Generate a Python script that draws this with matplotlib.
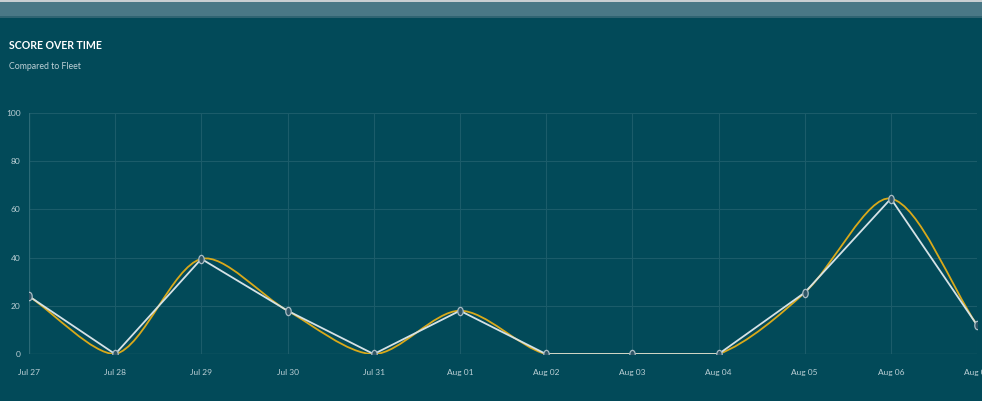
"""Score over time vs fleet - dark teal dashboard panel."""

import numpy as np
import matplotlib.pyplot as plt
from matplotlib.path import Path
from matplotlib.patches import PathPatch, Rectangle

plt.rcParams['font.family'] = ['Liberation Sans Narrow', 'Lato', 'DejaVu Sans']

days   = ['Jul 27', 'Jul 28', 'Jul 29', 'Jul 30', 'Jul 31', 'Aug 01',
          'Aug 02', 'Aug 03', 'Aug 04', 'Aug 05', 'Aug 06', 'Aug 07']
score  = [24, 0, 39.5, 18, 0, 18, 0, 0, 0, 25.5, 64.5, 12]
fleet  = [24, 0, 39.5, 18, 0, 18, 0, 0, 0, 25.5, 64.5, 12]
yticks = [0, 20, 40, 60, 80, 100]

BG     = '#024a59'
GRID   = '#1b5c6a'
TXT    = '#bdd0d6'
GOLD   = '#d9a91a'
WHITE  = '#d5e2e6'

fig = plt.figure(figsize=(9.82, 4.01), dpi=100)
fig.patch.set_facecolor(BG)
# header strip above the panel
fig.patches.append(Rectangle((0, 0.958), 1, 0.042, transform=fig.transFigure,
                             facecolor='#4a7886', edgecolor='none', zorder=0))
fig.patches.append(Rectangle((0, 0.955), 1, 0.004, transform=fig.transFigure,
                             facecolor='#2f6472', edgecolor='none', zorder=0))
fig.patches.append(Rectangle((0, 0.994), 1, 0.006, transform=fig.transFigure,
                             facecolor='#c9cfd2', edgecolor='none', zorder=0))

fig.text(0.009, 0.887, 'SCORE OVER TIME', color='white', fontsize=7.6,
         fontweight='bold', va='center')
fig.text(0.009, 0.835, 'Compared to Fleet', color=TXT, fontsize=6.3, va='center')

ax = fig.add_axes([0.0295, 0.117, 0.9655, 0.601])
ax.set_facecolor(BG)
x = np.arange(len(days))


def spline_path(xs, ys, tension=0.3, sx=86.2, sy=2.41):
    # Chart.js style bezier smoothing, distances measured in pixel scale
    px = np.asarray(xs, float) * sx
    py = np.asarray(ys, float) * sy
    n = len(px)
    cp_prev, cp_next = [], []
    for i in range(n):
        p0 = (px[max(i - 1, 0)], py[max(i - 1, 0)])
        p1 = (px[i], py[i])
        p2 = (px[min(i + 1, n - 1)], py[min(i + 1, n - 1)])
        d01 = np.hypot(p1[0] - p0[0], p1[1] - p0[1])
        d12 = np.hypot(p2[0] - p1[0], p2[1] - p1[1])
        tot = d01 + d12
        s01 = d01 / tot if tot else 0
        s12 = d12 / tot if tot else 0
        fa, fb = tension * s01, tension * s12
        dx, dy = p2[0] - p0[0], p2[1] - p0[1]
        cp_prev.append((p1[0] - fa * dx, np.clip(p1[1] - fa * dy, 0, 100 * sy)))
        cp_next.append((p1[0] + fb * dx, np.clip(p1[1] + fb * dy, 0, 100 * sy)))
    verts = [(px[0], py[0])]
    codes = [Path.MOVETO]
    for i in range(n - 1):
        verts += [cp_next[i], cp_prev[i + 1], (px[i + 1], py[i + 1])]
        codes += [Path.CURVE4] * 3
    verts = [(vx / sx, vy / sy) for vx, vy in verts]
    return Path(verts, codes)


# narrow oval point marker
circ = Path.unit_circle()
oval = Path(circ.vertices * [0.65, 1.0], circ.codes)

ax.add_patch(PathPatch(spline_path(x, fleet), facecolor='none', edgecolor=GOLD,
                       lw=1.3, zorder=3))
ax.plot(x, score, color=WHITE, lw=1.3, zorder=4, marker=oval, markersize=6,
        markerfacecolor='#2f5566', markeredgecolor='#a9bcc4', markeredgewidth=0.9)

ax.set_xlim(0, len(days) - 1)
ax.set_ylim(0, 100)
ax.set_xticks(x)
ax.set_xticklabels(days)
ax.set_yticks(yticks)
ax.grid(True, color=GRID, lw=0.8)
ax.set_axisbelow(True)
for s in ax.spines.values():
    s.set_visible(False)
ax.axhline(0, color='#2b6a77', lw=0.9, zorder=1)
ax.axvline(0, color='#2b6a77', lw=0.9, zorder=1)
ax.tick_params(colors=TXT, labelsize=6, length=0, pad=6)
ax.tick_params(axis='x', pad=11)

plt.savefig('out.png', dpi=100, facecolor=fig.get_facecolor())
